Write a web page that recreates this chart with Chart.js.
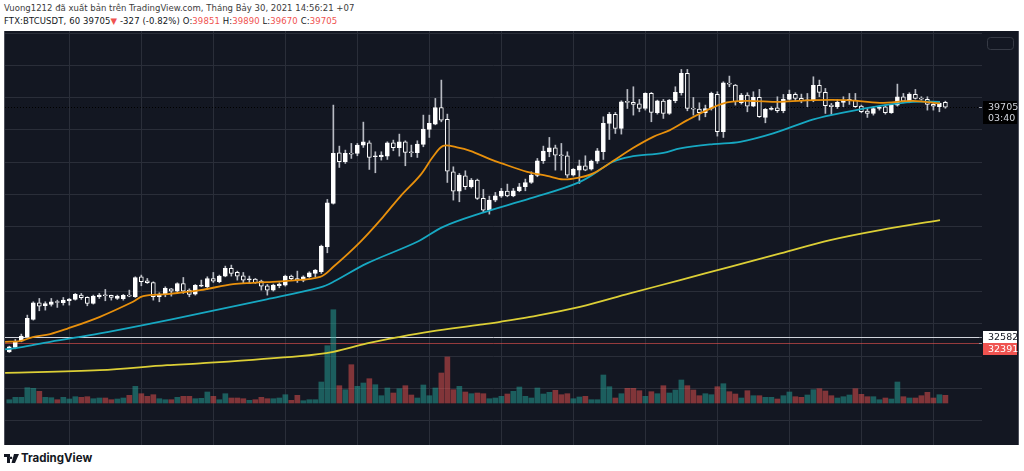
<!DOCTYPE html>
<html>
<head>
<meta charset="utf-8">
<script src="https://cdn.jsdelivr.net/npm/chart.js@4.4.0/dist/chart.umd.min.js"></script>
<style>
  body { margin: 0; width: 1024px; height: 471px; background: #fff; position: relative; overflow: hidden; font-family: "DejaVu Sans", sans-serif; }
  .head { position: absolute; left: 4px; white-space: nowrap; font-size: 8.5px; line-height: 11px; }
  #head1 { top: 3px; color: #3c3c3c; letter-spacing: 0.02px; }
  #head2 { top: 16px; color: #131722; letter-spacing: 0.1px; }
  .red { color: #ef5350; }
  #panel { position: absolute; left: 4px; top: 31px; width: 1015px; height: 414px; background: #131722;
           border-left: 1px solid #4c4f5a; border-right: 1px solid #4c4f5a; box-sizing: border-box; }
  #wrap { position: absolute; left: 0; top: 0; width: 1013px; height: 414px; }
  #logo { position: absolute; left: 4px; top: 451px; font-family: Inter, sans-serif; font-weight: 700; font-size: 11.5px; color: #131722; display: flex; align-items: center; gap: 2px; }
</style>
</head>
<body>
<div id="head1" class="head">Vuong1212 đã xuất bản trên TradingView.com, Tháng Bảy 30, 2021 14:56:21 +07</div>
<div id="head2" class="head">FTX:BTCUSDT, 60 39705<span class="red">▼</span> -327 (-0.82%) O:<span class="red">39851</span> H:<span class="red">39890</span> L:<span class="red">39670</span> C:<span class="red">39705</span></div>
<div id="panel"><div id="wrap"><canvas id="chart"></canvas></div></div>
<div id="logo">
  <svg width="15" height="9" viewBox="0 0 15 9"><path d="M0 0h6v9H3V3H0z M7 2.5a1.3 1.3 0 1 0 0.01 0z M10 0h5l-4 9H7.5z" fill="#131722"/></svg>
  <span>TradingView</span>
</div>
<script>
// --- candles, hourly, oldest first ---
const opens  = [32130,32265,32461,32595,33132,33648,33555,33596,33668,33648,33710,33751,33885,33813,33627,33834,33875,33875,33782,33772,
                33875,33834,34453,34329,34277,33834,33906,34081,34009,34246,34040,33916,34164,34143,34401,34298,34474,34711,34587,34484,
                34360,34381,34319,34174,34040,34174,34195,34474,34401,34350,34453,34556,34608,35382,36723,38292,38014,38281,38271,38529,
                38601,38168,38168,38189,38601,38447,38632,38302,38292,38550,39015,39179,39695,39324,37704,37105,37580,37240,37446,36878,
                36517,36827,36950,37105,36960,37115,37240,37373,37590,38044,38323,38447,38220,38199,37600,37755,37890,37786,38034,38323,
                39200,39479,39045,39871,39850,39809,39664,40129,39530,39892,39510,39902,40150,40748,39664,39644,39530,39664,40098,38942,
                40450,40387,39840,40078,39737,40005,39386,39634,39686,39593,39943,40098,39974,39902,39902,40377,40160,39768,39716,39850,
                39913,39923,39737,39582,39510,39664,39716,39530,39768,40026,39871,40098,39964,39943,39789,39716,39851];
const highs  = [32305,32513,32678,33266,33679,33782,33679,33782,33730,33813,33782,33937,33937,33834,33885,33937,34061,33885,33885,33906,
                34040,34453,34505,34401,34298,33958,34143,34092,34267,34432,34081,34215,34350,34453,34587,34505,34783,34814,34628,34587,
                34474,34401,34350,34215,34226,34267,34505,34505,34628,34484,34608,34680,35433,36847,39768,38498,38374,38581,38581,39241,
                38663,38323,38323,38632,38684,38870,38663,38529,38663,39458,39458,39974,40542,39489,37858,37652,37734,37497,37477,37157,
                36950,37064,37188,37322,37188,37343,37477,37704,38116,38498,38767,38529,38581,38323,37807,38065,38199,38065,38426,39406,
                39541,39541,39902,40253,40336,39943,40150,40160,39923,39943,39943,40336,40872,40872,40005,39840,39768,40170,40181,40490,
                40666,40408,40129,40150,40181,40253,39665,39716,40026,40098,40232,40150,40108,40129,40645,40542,40284,39820,39943,40026,
                40129,40129,39768,39665,39716,39737,39768,39789,40418,40129,40150,40253,40026,40026,39820,39840,39890];
const lows   = [32110,32224,32440,32575,33111,33400,33421,33545,33504,33576,33576,33730,33751,33555,33607,33782,33710,33730,33751,33730,
                33834,33813,34174,34246,33730,33679,33834,33854,33968,33937,33834,33885,34143,34061,34277,34267,34453,34474,34350,34267,
                34267,34246,34040,33885,34009,34112,34164,34350,34277,34298,34432,34453,34556,35196,36703,37838,37962,38117,38199,38457,
                37776,37673,38065,38086,38354,38189,37890,38168,38147,38478,38767,39158,39251,37373,36827,36775,37157,37200,36847,36465,
                36393,36775,36909,36930,36930,37085,37115,37343,37550,37962,38168,37755,37755,37528,37570,37343,37735,37755,37962,38086,
                38704,38890,38870,39664,39458,39561,39613,39252,39489,39355,39479,39840,40077,39592,39458,39303,39406,39613,38808,38767,
                40336,39768,39799,39561,39716,39386,39220,39613,39541,39530,39923,39902,39840,39716,39871,40026,39510,39479,39664,39716,
                39789,39696,39530,39386,39458,39613,39489,39510,39737,39840,39840,39954,39923,39613,39613,39561,39670];
const closes = [32285,32461,32616,33163,33648,33545,33627,33679,33658,33730,33761,33906,33803,33627,33854,33885,33865,33813,33854,33875,
                33854,34432,34298,34267,33834,33916,34092,34009,34246,34009,33906,34185,34195,34401,34319,34474,34711,34556,34474,34350,
                34370,34267,34164,34040,34195,34226,34474,34391,34350,34453,34577,34659,35402,36744,38271,38014,38271,38250,38529,38632,
                38147,38178,38219,38601,38447,38632,38302,38292,38560,39025,39200,39695,39303,37724,37105,37600,37240,37446,36878,36517,
                36827,36960,37105,36960,37115,37240,37373,37600,38044,38343,38447,38220,38199,37600,37776,37890,37755,38034,38354,39200,
                39479,39045,39871,39850,39788,39664,40129,39541,39902,39510,39923,40160,40748,39664,39644,39530,39664,40129,38942,40460,
                40418,39871,40078,39737,40005,39406,39634,39670,39593,39943,40098,39974,39902,39923,40377,40160,39747,39716,39850,39923,
                39923,39716,39562,39510,39664,39706,39530,39768,40026,39892,40108,39974,39954,39789,39737,39820,39705];
const volumes = [3.3,5.7,5.7,15.3,14.7,11.7,5.7,5.3,3.3,5.7,4,6.3,5.7,6.3,4.3,5,5,3.3,4,5,
                 7.7,16.7,9.3,6.7,8.3,4.3,3.3,3.3,5.7,6.7,6.7,4.3,4.7,11,6.7,3.3,9.3,5,5,4.3,
                 2.7,3.3,5.7,4.3,4.3,5,8.3,2.7,7.7,2.3,3.3,3.3,21,57.3,93.3,17.3,13.3,38.3,16.7,20,
                 24.3,18.3,7.3,15,10,14.3,17.3,8,5,18,7.3,15,30,46,13.3,16.7,11,9.3,10,9.3,
                 4.3,5,6.7,9,11.7,16,6.7,5,15,9,10.7,12.7,8.3,9.3,4.3,6,6.7,3.3,3.3,28,
                 16.3,5,9.3,14.7,14.7,12.3,6.7,11.3,9.3,17.3,10,13,23,17.3,13,7.3,9.3,8.3,16.3,19.3,
                 11.3,9,5,12.3,7.3,7.3,5.7,5.7,4,7.3,11,6.3,5.7,8,13.3,14.3,12,7.3,5,6.3,
                 8,14.3,8.7,6.3,6.3,3.3,5,4,21,6.3,5,5,7.3,10.7,5,8.3,7.7];

// --- moving averages (bar index, price) ---
const maFastX = [-0.7,1.8,3.9,6.8,9.6,15.1,20.6,22.3,26.3,31.8,37.3,40.6,42.9,46.3,51.8,54,58.5,62.3,65.1,68.5,70.6,72.3,74.6,76.8,80.1,81.8,86.3,89.6,92.3,95.1,97.3,100.6,104,107.3,110.1,113,116.3,119.6,122.9,128.5,134,139.6,145.1,150.6,155.1];
const maFast  = [32440,32461,32585,32678,32842,33214,33678,33854,33916,34040,34226,34266,34288,34328,34452,34762,35536,36310,36929,37601,38167,38508,38458,38353,38096,37981,37703,37579,37467,37529,37653,38034,38446,38786,38994,39303,39613,39851,39901,39870,39923,39923,39839,39901,39820];
const maMidX  = [-0.7,1.8,6.8,15.1,22.3,31.8,42.9,51.8,54,59.6,68,72.3,78.5,86.8,95.1,100.6,103.4,109,111.8,117.3,121.8,127.3,134,139.6,145.1,150.6,155.1];
const maMid   = [32204,32266,32440,32700,32957,33319,33752,34124,34297,34867,35536,36000,36415,36879,37393,38012,38167,38291,38427,38560,38632,38892,39325,39560,39746,39870,39870];
const maSlowX = [-0.7,15.1,26.3,31.8,48.4,54,59.6,65.1,70.1,78.5,81.8,86.8,95.1,103.4,111.8,120.1,128.5,136.8,145.1,155.1];
const maSlow  = [31480,31563,31718,31771,31997,32130,32390,32594,32755,32972,33059,33214,33523,33938,34350,34762,35176,35588,35898,36207];

// --- price marks ---
const lastPrice = 39705, lastTimer = '03:40';
const levelHigh = 32582, levelLow = 32391;
const gridIdx = [10,22,34,46,58,70,82,94,106,118,130,142,154];
const priceTicks = [30000,31000,32000,33000,34000,35000,36000,37000,38000,39000,40000,41000,42000];

const idx = closes.map((_, i) => i);
const isUp = idx.map(i => closes[i] >= opens[i]);
const pts = (xs, ys) => xs.map((x, i) => ({ x: x, y: ys[i] }));

const priceMarks = {
  id: 'priceMarks',
  beforeDatasetsDraw(chart) {
    const { ctx, chartArea: a, scales: { y } } = chart;
    ctx.save();
    const line = (p, color, dash) => {
      const py = Math.round(y.getPixelForValue(p)) + 0.5;
      ctx.strokeStyle = color; ctx.lineWidth = 1; ctx.setLineDash(dash);
      ctx.beginPath(); ctx.moveTo(a.left, py); ctx.lineTo(a.right, py); ctx.stroke();
    };
    line(levelHigh, '#d1d4dc', []);
    line(levelLow, 'rgba(239,83,80,0.6)', []);
    line(lastPrice, '#000000', [1, 2]);
    ctx.restore();
  },
  afterDraw(chart) {
    const { ctx, chartArea: a, scales: { y } } = chart;
    ctx.save();
    ctx.font = '9.5px "DejaVu Sans", sans-serif';
    ctx.textBaseline = 'middle';
    const x0 = a.right + 1, w = 34;
    const tag = (p, top, bg, fg, lines) => {
      const h = lines.length * 11 + 1;
      ctx.fillStyle = bg;
      ctx.fillRect(x0, top, w, h);
      ctx.fillStyle = fg;
      lines.forEach((t, k) => ctx.fillText(t, x0 + 5, top + 6.5 + k * 11));
      ctx.fillStyle = '#9598a1';
      ctx.fillRect(a.right - 3, Math.round(y.getPixelForValue(p)), 3, 1);
    };
    const pyLast = y.getPixelForValue(lastPrice);
    tag(lastPrice, Math.round(pyLast) - 6, '#000000', '#d1d4dc', [String(lastPrice), lastTimer]);
    const pyHigh = Math.round(y.getPixelForValue(levelHigh));
    tag(levelHigh, pyHigh - 6, '#ffffff', '#131722', [String(levelHigh)]);
    tag(levelLow, pyHigh + 6, '#ef5350', '#ffffff', [String(levelLow)]);
    // small button at top right
    ctx.strokeStyle = '#363a45'; ctx.lineWidth = 1;
    ctx.beginPath(); ctx.roundRect(a.right + 5.5, 6.5, 26, 12, 3); ctx.stroke();
    ctx.restore();
  }
};

new Chart(document.getElementById('chart'), {
  data: {
    datasets: [
      { type: 'line', data: pts(maFastX, maFast), borderColor: '#e8900c', borderWidth: 1.8, pointRadius: 0, tension: 0.35, yAxisID: 'y', order: 0 },
      { type: 'line', data: pts(maMidX, maMid), borderColor: '#17a8c2', borderWidth: 1.8, pointRadius: 0, tension: 0.35, yAxisID: 'y', order: 0 },
      { type: 'line', data: pts(maSlowX, maSlow), borderColor: '#dccf36', borderWidth: 1.8, pointRadius: 0, tension: 0.35, yAxisID: 'y', order: 0 },
      { type: 'bar', data: idx.map(i => ({ x: i, y: [opens[i], closes[i]] })), yAxisID: 'y', order: 1,
        grouped: false, barThickness: 4, minBarLength: 1, borderWidth: 1, borderSkipped: false,
        backgroundColor: c => isUp[c.dataIndex] ? '#ffffff' : '#131722', borderColor: '#ffffff' },
      { type: 'bar', data: idx.map(i => ({ x: i, y: [lows[i], highs[i]] })), yAxisID: 'y', order: 2,
        grouped: false, barThickness: 1, backgroundColor: '#b8bbc3' },
      { type: 'bar', data: idx.map(i => ({ x: i, y: volumes[i] })), yAxisID: 'yv', order: 3,
        grouped: false, barThickness: 5,
        backgroundColor: c => isUp[c.dataIndex] ? 'rgba(38,166,154,0.5)' : 'rgba(239,83,80,0.5)' }
    ]
  },
  options: {
    responsive: true,
    maintainAspectRatio: false,
    animation: false,
    layout: { padding: { left: 0, right: 36, top: 0, bottom: 0 } },
    plugins: { legend: { display: false }, tooltip: { enabled: false } },
    scales: {
      x: {
        type: 'linear', min: -0.72, max: 162.1, offset: false,
        afterBuildTicks: s => { s.ticks = gridIdx.map(v => ({ value: v })); },
        afterFit: s => { s.height = 0; },
        ticks: { display: false },
        border: { display: false },
        grid: { color: '#2a2e39', drawTicks: false, offset: false }
      },
      y: {
        position: 'right', min: 29245, max: 42062,
        afterBuildTicks: s => { s.ticks = priceTicks.map(v => ({ value: v })); },
        afterFit: s => { s.width = 0; },
        ticks: { display: false },
        border: { display: false },
        grid: { color: '#2a2e39', drawTicks: false }
      },
      yv: { display: false, min: -42, max: 372 }
    }
  },
  plugins: [priceMarks]
});
</script>
</body>
</html>
